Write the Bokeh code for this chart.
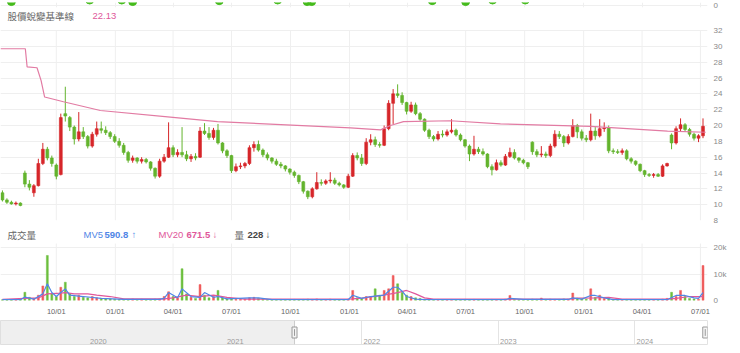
import numpy as np
import pandas as pd
from bokeh.plotting import figure
from bokeh.models import Range1d, FixedTicker, DatetimeTickFormatter, Label, ColumnDataSource, NumeralTickFormatter
from bokeh.layouts import column
from bokeh.embed import file_html
from bokeh.resources import INLINE
from bokeh.core.properties import value

# ---------------- data (weekly candles) ----------------
week_start = "2021-07-09"
view_start, view_end = "2021-07-06", "2024-07-12"

opens = [11.5,10.6,10.3,10.1,10.2,14.0,12.6,11.5,12.4,15.2,
         17.0,15.9,15.0,13.8,21.5,21.0,19.8,18.3,19.2,18.6,
         17.4,18.9,19.6,19.4,19.1,18.6,18.0,17.5,16.6,15.6,
         15.9,15.5,15.7,15.4,14.6,13.6,15.5,16.0,17.2,16.3,
         16.6,16.3,15.8,16.1,16.0,19.3,19.0,18.5,19.4,17.8,
         16.8,16.2,14.3,14.8,14.9,15.2,17.2,17.6,16.9,16.3,
         15.9,15.5,15.1,14.9,14.5,14.1,13.7,12.9,11.7,11.0,
         12.0,12.8,12.7,13.0,13.1,12.7,12.5,12.2,13.6,16.2,
         15.9,15.2,17.9,18.2,17.6,17.5,19.6,22.8,24.0,23.8,
         22.9,21.8,22.6,21.5,20.8,19.4,18.6,18.3,18.9,18.8,
         19.2,19.4,18.8,18.2,17.4,16.4,17.0,16.7,16.4,14.8,
         14.4,15.3,15.0,16.1,16.6,15.9,15.6,15.3,17.9,16.7,
         16.3,16.4,16.2,17.4,18.9,18.6,17.8,18.6,20.0,19.2,
         18.4,18.2,19.3,18.7,19.6,19.7,16.8,16.7,16.6,16.8,
         15.8,15.5,15.1,14.3,13.8,13.7,13.8,13.6,14.9,18.8,
         17.8,19.6,20.1,19.5,18.9,18.4,18.7]
highs = [11.8,10.8,10.5,10.4,10.3,14.3,13.1,12.6,15.8,17.8,
         17.3,16.2,15.2,21.5,24.9,21.2,20.0,21.7,19.8,18.8,
         19.2,20.5,20.5,19.9,19.3,18.9,18.4,17.8,16.8,16.2,
         16.0,16.0,15.9,15.5,14.7,15.8,16.4,20.4,17.5,17.0,
         19.8,16.8,16.4,16.5,19.8,20.3,19.8,19.7,20.2,17.9,
         17.0,16.3,15.2,15.3,15.4,17.5,18.0,18.1,17.1,16.6,
         16.0,15.8,15.4,15.0,14.6,14.3,13.8,13.0,11.8,12.2,
         14.1,13.2,13.2,14.1,13.4,12.9,12.6,13.9,16.5,16.6,
         16.4,18.4,18.9,18.6,17.9,20.0,23.2,24.6,25.2,24.2,
         23.0,23.0,22.9,21.7,20.9,19.6,18.8,19.3,19.4,19.5,
         20.8,19.6,19.0,18.3,17.6,18.7,17.3,17.1,16.5,15.1,
         15.7,15.6,16.4,17.2,17.0,16.0,15.8,15.4,18.0,17.0,
         17.4,16.7,17.7,19.4,19.3,18.8,18.9,20.8,20.2,19.5,
         18.8,21.5,19.8,20.8,20.4,20.0,17.1,17.0,17.1,17.0,
         16.0,15.6,15.2,14.4,14.0,14.0,14.0,15.1,15.3,19.0,
         19.9,20.9,20.3,19.7,19.1,18.9,20.9]
lows = [10.4,10.1,10.0,9.9,9.8,12.2,11.8,11.0,12.3,15.0,
        15.6,14.8,13.2,13.7,20.5,19.3,17.6,18.0,18.3,17.1,
        17.2,18.6,19.0,18.8,18.3,17.8,17.2,16.3,15.3,15.3,
        15.2,15.2,15.2,14.3,13.3,13.4,15.3,15.9,16.0,16.0,
        16.0,15.5,15.4,15.6,15.9,18.8,18.2,18.2,17.6,16.5,
        15.9,14.0,14.1,14.5,14.6,15.0,16.7,16.7,16.0,15.6,
        15.2,14.9,14.6,14.2,13.8,13.4,12.6,11.4,10.7,10.8,
        11.9,12.4,12.5,12.7,12.5,12.3,12.0,12.1,13.5,15.6,
        14.9,15.0,17.5,17.3,17.2,17.4,19.4,20.2,23.5,22.6,
        21.4,21.6,21.3,20.6,19.2,18.3,18.0,18.1,18.5,18.6,
        19.0,18.6,18.0,17.2,15.5,16.2,16.4,16.2,14.6,13.7,
        14.3,14.8,14.9,15.9,15.7,15.3,15.1,14.5,16.3,16.0,
        16.0,15.9,16.0,17.2,18.3,17.3,17.6,18.5,18.4,18.1,
        17.9,18.0,18.2,18.5,19.2,16.5,16.4,16.4,16.3,15.6,
        15.2,14.9,14.1,13.5,13.5,13.4,13.5,13.5,14.8,17.0,
        17.6,19.3,19.2,18.6,18.1,17.9,18.4]
closes = [10.6,10.3,10.1,10.2,9.9,12.6,12.2,12.4,15.2,17.0,
          15.9,15.2,13.6,21.0,21.2,19.8,18.3,19.2,18.6,17.4,
          18.9,19.6,19.4,19.1,18.6,18.0,17.5,16.6,15.6,15.9,
          15.5,15.7,15.4,14.6,13.6,15.5,16.0,17.2,16.3,16.6,
          16.3,15.8,16.1,15.9,19.3,19.0,18.5,19.4,17.8,16.8,
          16.2,14.3,14.8,14.9,15.2,17.2,17.6,16.9,16.3,15.9,
          15.5,15.1,14.9,14.5,14.1,13.7,12.9,11.7,11.0,12.0,
          12.8,12.7,13.0,13.1,12.7,12.5,12.2,13.6,16.2,15.9,
          15.2,17.9,18.2,17.6,17.5,19.6,22.8,24.0,23.8,22.9,
          21.8,22.6,21.5,20.8,19.4,18.6,18.3,18.9,18.8,19.2,
          19.4,18.8,18.2,17.4,16.4,17.0,16.7,16.4,14.8,14.4,
          15.3,15.0,16.1,16.6,15.9,15.6,15.3,14.8,16.7,16.3,
          16.4,16.2,17.4,18.9,18.6,17.8,18.6,20.0,19.2,18.4,
          18.2,19.3,18.7,19.6,19.7,16.8,16.7,16.6,16.8,15.8,
          15.5,15.1,14.3,13.8,13.7,13.8,13.6,14.9,15.2,17.8,
          19.6,20.1,19.5,18.9,18.4,18.7,19.9]
# volume in thousands of lots
vol_k = [0.3,0.3,0.2,0.3,0.4,3.1,1.2,0.8,2.0,5.5,
         17.0,2.5,1.5,5.0,6.9,2.5,1.5,2.0,1.2,1.0,
         1.5,1.0,0.8,0.6,0.6,0.5,0.4,0.5,0.4,0.6,
         0.4,0.5,0.3,0.4,0.5,0.6,1.5,3.3,1.5,1.0,
         12.0,2.5,1.2,0.8,6.0,2.0,1.0,1.5,3.8,1.0,
         0.6,0.8,0.5,0.5,0.5,1.0,1.2,0.8,0.5,0.4,
         0.3,0.3,0.4,0.3,0.3,0.4,0.3,0.4,0.5,0.4,
         0.6,0.3,0.3,0.5,0.3,0.2,0.3,0.5,3.8,1.0,
         0.8,1.5,1.5,4.4,2.0,3.8,4.4,9.4,6.3,3.0,
         2.0,1.5,1.0,0.8,0.5,0.4,0.3,0.4,0.3,0.3,
         0.4,0.3,0.3,0.4,0.3,0.4,0.3,0.3,0.3,0.4,
         0.3,0.3,0.5,1.9,0.4,0.3,0.4,0.3,0.5,0.4,
         0.9,0.4,0.5,0.4,0.4,0.6,0.5,2.8,0.8,0.6,
         0.5,4.4,1.2,2.0,0.8,1.0,0.5,0.4,0.3,0.4,
         0.3,0.3,0.4,0.3,0.3,0.3,0.3,0.5,0.8,3.1,
         1.5,3.8,1.5,0.8,0.6,0.5,13.2]

# moving averages of volume (week index, thousands)
mv5_wk = [0,4,5,7,9,10,11,12,13,14,15,18,22,27,35,36,37,39,40,42,44,45,47,48,50,55,57,60,77,78,
          80,82,85,87,88,89,90,92,94,112,113,116,126,127,129,131,132,134,136,148,150,152,154,155,156]
mv5_val = [0.3,0.3,1.3,0.5,2.5,6.3,3.0,1.5,3.0,4.4,2.0,1.5,0.8,0.4,0.4,0.8,3.0,1.0,4.4,1.5,1.2,3.0,1.2,1.5,0.6,1.0,1.0,0.3,0.3,2.0,
           0.8,1.5,2.0,5.0,5.0,3.5,1.5,0.5,0.3,0.3,0.8,0.4,0.4,1.0,0.5,1.9,1.9,1.0,0.3,0.3,1.9,1.9,1.0,0.8,3.0]
mv20_wk = [0,5,8,10,13,14,16,19,21,24,27,36,38,41,44,47,50,54,75,78,80,85,88,90,92,94,96,127,128,132,135,138,148,150,153,156]
mv20_val = [0.4,0.8,1.0,2.5,2.8,3.0,2.5,2.5,2.0,1.5,0.6,0.6,1.0,2.0,1.5,2.0,1.2,0.5,0.5,0.6,0.9,2.0,3.0,3.8,2.5,1.0,0.5,0.6,0.9,1.0,1.2,0.5,0.5,0.8,1.5,1.5]

# benchmark line (week index, price)
bench_wk = [-0.43,5.1,5.5,7.7,8.6,9.4,13.6,21.8,36.8,47.9,55.2,77.5,84.2,86.4,89.3,99.8,110.9,131.0,148.1,156.6]
bench_val = [29.7,29.7,27.4,27.3,25.7,23.6,23.0,21.9,21.1,20.5,20.3,19.7,19.45,20.0,20.5,20.6,20.2,19.9,19.3,19.15]

# dots of the panel above (only their lower edge shows)
dot_dates = ["2021-07-23","2021-11-22","2022-01-11","2022-01-28","2022-06-12","2022-09-11",
             "2022-10-27","2022-11-03","2023-05-10","2023-07-01","2023-08-12","2023-10-02"]
dot_vals = [1.3,1.8,1.8,1.3,1.6,1.8,1.3,1.3,1.6,1.3,1.8,1.8]

quarter_ticks = ["2021-10-01","2022-01-01","2022-04-01","2022-07-01","2022-10-01","2023-01-01",
                 "2023-04-01","2023-07-01","2023-10-01","2024-01-01","2024-04-01","2024-07-01"]
price_ticks = [8,10,12,14,16,18,20,22,24,26,28,30,32]
vol_ticks = [0, 10000, 20000]

nav_start, nav_end = "2019-05-12", "2024-07-14"
sel_start, sel_end = "2021-07-06", "2024-07-08"
nav_years = ["2020","2021","2022","2023","2024"]

title_text, title_value = "股價蛻變基準線", "22.13"

# ---------------- styling ----------------
RED, GREEN = "#d6262a", "#63b42d"
VRED, VGREEN = "#ef5a5a", "#6cbf3e"
BLUE, PINK = "#4f86e6", "#e0579a"
BENCH = "#e27ba3"
GRID = "#efefef"
NUMF = "Liberation Sans"
CJKF = "Noto Sans CJK TC"
DAY = 86400000

def ms(s):
    return pd.Timestamp(s).value / 1e6

n = len(closes)
dates = pd.date_range(week_start, periods=n, freq="7D")
o = np.array(opens); c = np.array(closes)
colors = [RED if cc >= oo else GREEN for oo, cc in zip(o, c)]
vcolors = [VRED if cc >= oo else VGREEN for oo, cc in zip(o, c)]
src = ColumnDataSource(dict(date=dates, high=highs, low=lows,
                            top=np.maximum(o, c), bottom=np.minimum(o, c),
                            color=colors, vcolor=vcolors,
                            vol=np.array(vol_k) * 1000))

def wk_dates(k):
    return pd.Timestamp(week_start) + pd.to_timedelta(np.array(k, dtype=float) * 7, unit="D")

xr = Range1d(pd.Timestamp(view_start), pd.Timestamp(view_end))
qt = [ms(t) for t in quarter_ticks]
qd = pd.to_datetime(quarter_ticks)

def make(height, yr, top, bottom, xaxis=False, x_range=None):
    p = figure(width=740, height=height, x_range=x_range or xr, y_range=yr,
               x_axis_type="datetime", x_axis_location=("below" if xaxis else None),
               y_axis_location="right", output_backend="svg", toolbar_location=None,
               min_border_left=0, min_border_right=33, min_border_top=top, min_border_bottom=bottom)
    p.outline_line_color = None
    p.background_fill_color = "white"
    p.border_fill_color = "white"
    return p

def style_y(p, ticks, fmt=None, vgrid=True):
    ax = p.yaxis[0]
    ax.ticker = FixedTicker(ticks=ticks)
    ax.axis_line_color = None
    ax.major_tick_line_color = None
    ax.minor_tick_line_color = None
    ax.major_tick_out = 0
    ax.major_tick_in = 0
    ax.minor_tick_out = 0
    ax.major_label_standoff = 6
    ax.major_label_text_font_size = "8px"
    ax.major_label_text_color = "#8a8a8a"
    ax.major_label_text_font = NUMF
    if fmt is not None:
        ax.formatter = fmt
    p.ygrid.ticker = FixedTicker(ticks=ticks)
    p.ygrid.grid_line_color = GRID
    if vgrid:
        p.xgrid.ticker = FixedTicker(ticks=qt)
        p.xgrid.grid_line_color = GRID
    else:
        p.xgrid.visible = False

def label(p, x, y, text, color, font=NUMF, bold=False, size="9.5px"):
    p.add_layout(Label(x=x, y=y, x_units="screen", y_units="screen", text=text,
                       text_color=color, text_font=font,
                       text_font_size=size, text_baseline="middle", text_align="left",
                       text_font_style=("bold" if bold else "normal")))

# ---- top strip
top = make(10, Range1d(-0.6, 1.0), 0, 5)
style_y(top, [0])
top.scatter(x=pd.to_datetime(dot_dates), y=dot_vals, size=8, color="#45bb1c")

# ---- price panel (frame also holds the title row)
price = make(214, Range1d(8, 34.53), 0, 4)
style_y(price, price_ticks, vgrid=False)
price.segment(x0=qd, y0=[price_ticks[0]] * len(qd), x1=qd, y1=[price_ticks[-1]] * len(qd),
              line_color=GRID, line_width=1)
price.segment(x0="date", y0="low", x1="date", y1="high", color="color", line_width=1, source=src)
price.vbar(x="date", width=4.5 * DAY, top="top", bottom="bottom", fill_color="color",
           line_color="color", line_width=0.6, source=src)
price.line(wk_dates(bench_wk), bench_val, color=BENCH, line_width=1.2)
label(price, 7, 205, title_text, "#666666", font=CJKF)
label(price, 92, 205, title_value, PINK)

# ---- volume panel (frame also holds the title row)
vol = make(96, Range1d(0, 28700), 0, 20, xaxis=True)
style_y(vol, vol_ticks, NumeralTickFormatter(format="0a"), vgrid=False)
vol.segment(x0=qd, y0=[0] * len(qd), x1=qd, y1=[21500] * len(qd), line_color=GRID, line_width=1)
vol.vbar(x="date", width=3 * DAY, top="vol", bottom=0, fill_color="vcolor", line_color="vcolor",
         line_width=0.5, source=src)
vol.line(wk_dates(mv20_wk), np.array(mv20_val) * 1000, color=PINK, line_width=1.2)
vol.line(wk_dates(mv5_wk), np.array(mv5_val) * 1000, color=BLUE, line_width=1.2)
xa = vol.xaxis[0]
xa.ticker = FixedTicker(ticks=qt)
xa.formatter = DatetimeTickFormatter(days="%m/%d", months="%m/%d", years="%m/%d", hours="%m/%d")
xa.axis_line_color = None
xa.major_tick_line_color = None
xa.minor_tick_line_color = None
xa.major_tick_out = 0
xa.major_tick_in = 0
xa.minor_tick_out = 0
xa.major_label_standoff = 6
xa.major_label_text_font_size = "7.5px"
xa.major_label_text_color = "#666666"
xa.major_label_text_font = NUMF
label(vol, 7, 66, "成交量", "#666666", font=CJKF)
label(vol, 83, 66, "MV5", BLUE)
label(vol, 104, 66, "590.8", BLUE, bold=True)
label(vol, 131, 66, "↑", BLUE)
label(vol, 158, 66, "MV20", PINK)
label(vol, 186, 66, "671.5", PINK, bold=True)
label(vol, 212, 66, "↓", PINK)
label(vol, 234, 66, "量", "#666666", font=CJKF)
label(vol, 247, 66, "228", "#444444", bold=True)
label(vol, 265, 66, "↓", "#444444")

# ---- navigator
nxr = Range1d(pd.Timestamp(nav_start), pd.Timestamp(nav_end))
nav = make(33, Range1d(0, 1), 0, 9, x_range=nxr)
nav.yaxis.visible = False
nav.ygrid.visible = False
yt = [ms(y + "-01-01") for y in nav_years]
nav.xgrid.ticker = FixedTicker(ticks=yt)
nav.xgrid.grid_line_color = "#e4e4e4"
nav.outline_line_color = "#e2e2e2"
nav.quad(left=[pd.Timestamp(nav_start)], right=[pd.Timestamp(sel_start)], bottom=[0], top=[1],
         fill_color="#efefef", line_color="#d9d9d9", line_width=1)
nav.text(x=pd.to_datetime([y + "-01-01" for y in nav_years]), y=[0.04] * len(nav_years), text=nav_years,
         x_offset=2, text_baseline="bottom", text_align="left", text_font_size="7.5px",
         text_color="#9a9a9a", text_font=value(NUMF))
nav.segment(x0=[pd.Timestamp(sel_start)], y0=[0], x1=[pd.Timestamp(sel_start)], y1=[1],
            line_color="#cccccc", line_width=1)
nav.rect(x=pd.to_datetime([sel_start, sel_end]), y=[0.5, 0.5], width=5, height=11,
         width_units="screen", height_units="screen", fill_color="#f4f4f4", line_color="#9a9a9a",
         line_width=1)
nav.segment(x0=pd.to_datetime([sel_start, sel_end]), y0=[0.36, 0.36], x1=pd.to_datetime([sel_start, sel_end]),
            y1=[0.64, 0.64], line_color="#9a9a9a", line_width=1)

layout = column(top, price, vol, nav, spacing=0)
open("out.html", "w").write(file_html(layout, INLINE))
